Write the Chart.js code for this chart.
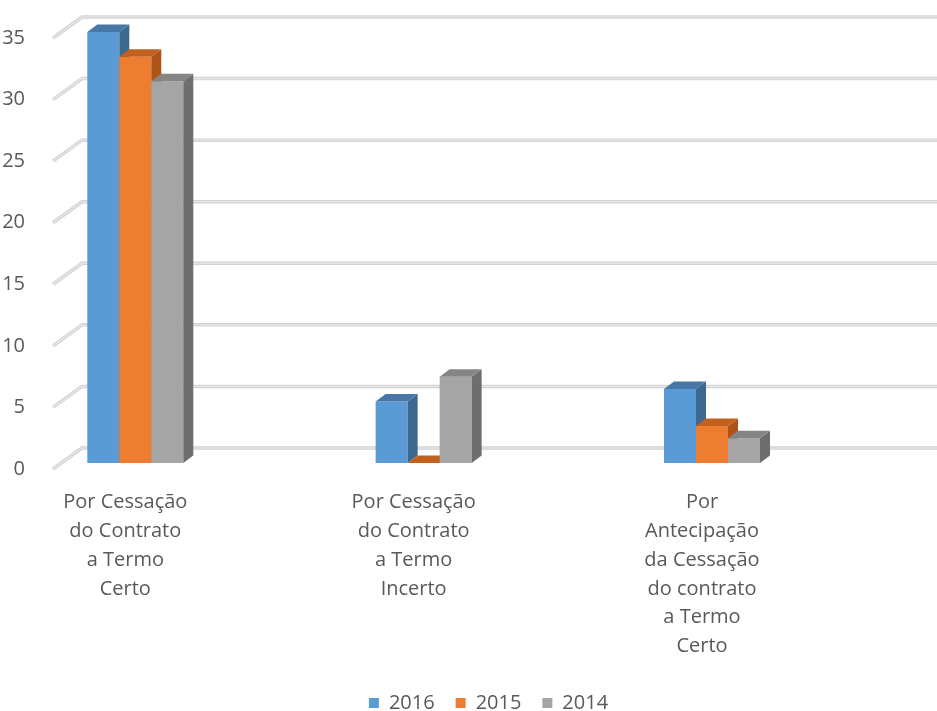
<!DOCTYPE html>
<html>
<head>
<meta charset="utf-8">
<script src="https://cdn.jsdelivr.net/npm/chart.js@4/dist/chart.umd.min.js"></script>
<style>
  html, body { margin: 0; padding: 0; background: #ffffff; }
  canvas { display: block; }
</style>
</head>
<body>
<canvas id="chart" width="937" height="711"></canvas>
<script>
// ---- Data ----
const categories = [
  ["Por Cessação", "do Contrato", "a Termo", "Certo"],
  ["Por Cessação", "do Contrato", "a Termo", "Incerto"],
  ["Por", "Antecipação", "da Cessação", "do contrato", "a Termo", "Certo"]
];
const seriesNames = ["2016", "2015", "2014"];
const values2016 = [35, 5, 6];
const values2015 = [33, 0, 3];
const values2014 = [31, 7, 2];
const yMin = 0;
const yMax = 35;
const yStep = 5;

// ---- Styles ----
const frontColors = ["#5b9bd5", "#ed7d31", "#a5a5a5"];
const topColors   = ["#4677a6", "#c2611e", "#858585"];
const sideColors  = ["#3d6990", "#ad5518", "#6e6e6e"];
const textColor = "#595959";

const DEPTH_X = 10, DEPTH_Y = 7.5;     // bar depth
const WALL_DX = 29, WALL_DY = 15;      // back wall offset from bar plane
const FLOOR_DY = 6;                    // front edge of floor below bar plane
const LEGEND_LEFT = 40;                // legend box left edge (centres it like the original)

Chart.defaults.font.family = "'Open Sans', 'DejaVu Sans', sans-serif";
Chart.defaults.color = textColor;

const seriesValues = [values2016, values2015, values2014];
const datasets = seriesNames.map((name, s) => ({
  label: name,
  data: seriesValues[s].map((v, i) => ({ x: i, y: v })),
  backgroundColor: frontColors[s],
  borderWidth: 0
}));

const threeD = {
  id: 'threeD',
  afterLayout(chart) {
    if (chart.legend) { chart.legend.left = LEGEND_LEFT; }
  },
  beforeDatasetsDraw(chart) {
    const { ctx, chartArea, scales: { y } } = chart;
    ctx.save();
    ctx.lineJoin = 'round';
    y.ticks.forEach(t => {
      const py = y.getPixelForValue(t.value);
      const x0 = chartArea.left, x1 = chartArea.left + WALL_DX;
      ctx.beginPath();
      ctx.moveTo(x0, py + FLOOR_DY);
      ctx.lineTo(x1, py - WALL_DY);
      ctx.lineTo(chart.width + 5, py - WALL_DY);
      ctx.lineWidth = 3.5; ctx.strokeStyle = '#d3d3d3'; ctx.stroke();
      ctx.lineWidth = 1.2; ctx.strokeStyle = '#e8e8e8'; ctx.stroke();
    });
    ctx.restore();
  },
  beforeDatasetDraw() { return false; },
  afterDatasetsDraw(chart) {
    const ctx = chart.ctx;
    const metas = chart.data.datasets.map((d, i) => chart.getDatasetMeta(i));
    const count = categories.length;
    ctx.save();
    for (let c = 0; c < count; c++) {
      metas.forEach((meta, s) => {
        const bar = meta.data[c];
        if (!bar) return;
        bar.draw(ctx);
        const { x, y, base, width } = bar.getProps(['x', 'y', 'base', 'width'], true);
        const l = x - width / 2, r = x + width / 2;
        // side face
        ctx.fillStyle = sideColors[s];
        ctx.beginPath();
        ctx.moveTo(r, y);
        ctx.lineTo(r + DEPTH_X, y - DEPTH_Y);
        ctx.lineTo(r + DEPTH_X, base - DEPTH_Y);
        ctx.lineTo(r, base);
        ctx.closePath();
        ctx.fill();
        // top face
        ctx.fillStyle = topColors[s];
        ctx.beginPath();
        ctx.moveTo(l, y);
        ctx.lineTo(l + DEPTH_X, y - DEPTH_Y);
        ctx.lineTo(r + DEPTH_X, y - DEPTH_Y);
        ctx.lineTo(r, y);
        ctx.closePath();
        ctx.fill();
      });
    }
    ctx.restore();
  }
};

new Chart(document.getElementById('chart'), {
  type: 'bar',
  data: { datasets },
  plugins: [threeD],
  options: {
    responsive: false,
    devicePixelRatio: 1,
    animation: false,
    layout: { padding: { left: 0, right: 0, top: 30, bottom: -12 } },
    datasets: { bar: { categoryPercentage: 96 / 288.35, barPercentage: 1 } },
    scales: {
      x: {
        type: 'linear',
        offset: false,
        min: -0.2854,
        max: 2.7803,
        afterBuildTicks: (s) => { s.ticks = categories.map((_, i) => ({ value: i })); },
        grid: { display: false },
        border: { display: false },
        ticks: {
          callback: (v) => categories[v],
          padding: 17,
          labelOffset: -10,
          maxRotation: 0,
          minRotation: 0,
          autoSkip: false,
          color: textColor,
          font: { size: 20, lineHeight: 1.44 }
        },
        afterFit: (s) => { s.height = 209; }
      },
      y: {
        min: yMin,
        max: yMax,
        ticks: {
          stepSize: yStep,
          padding: 20,
          labelOffset: 6,
          color: textColor,
          font: { size: 20 }
        },
        grid: { display: false },
        border: { display: false },
        afterFit: (s) => { s.width = 53; }
      }
    },
    plugins: {
      legend: {
        position: 'bottom',
        labels: {
          boxWidth: 10,
          boxHeight: 10,
          padding: 21,
          color: textColor,
          font: { size: 20 }
        }
      },
      tooltip: { enabled: false }
    }
  }
});
</script>
</body>
</html>
